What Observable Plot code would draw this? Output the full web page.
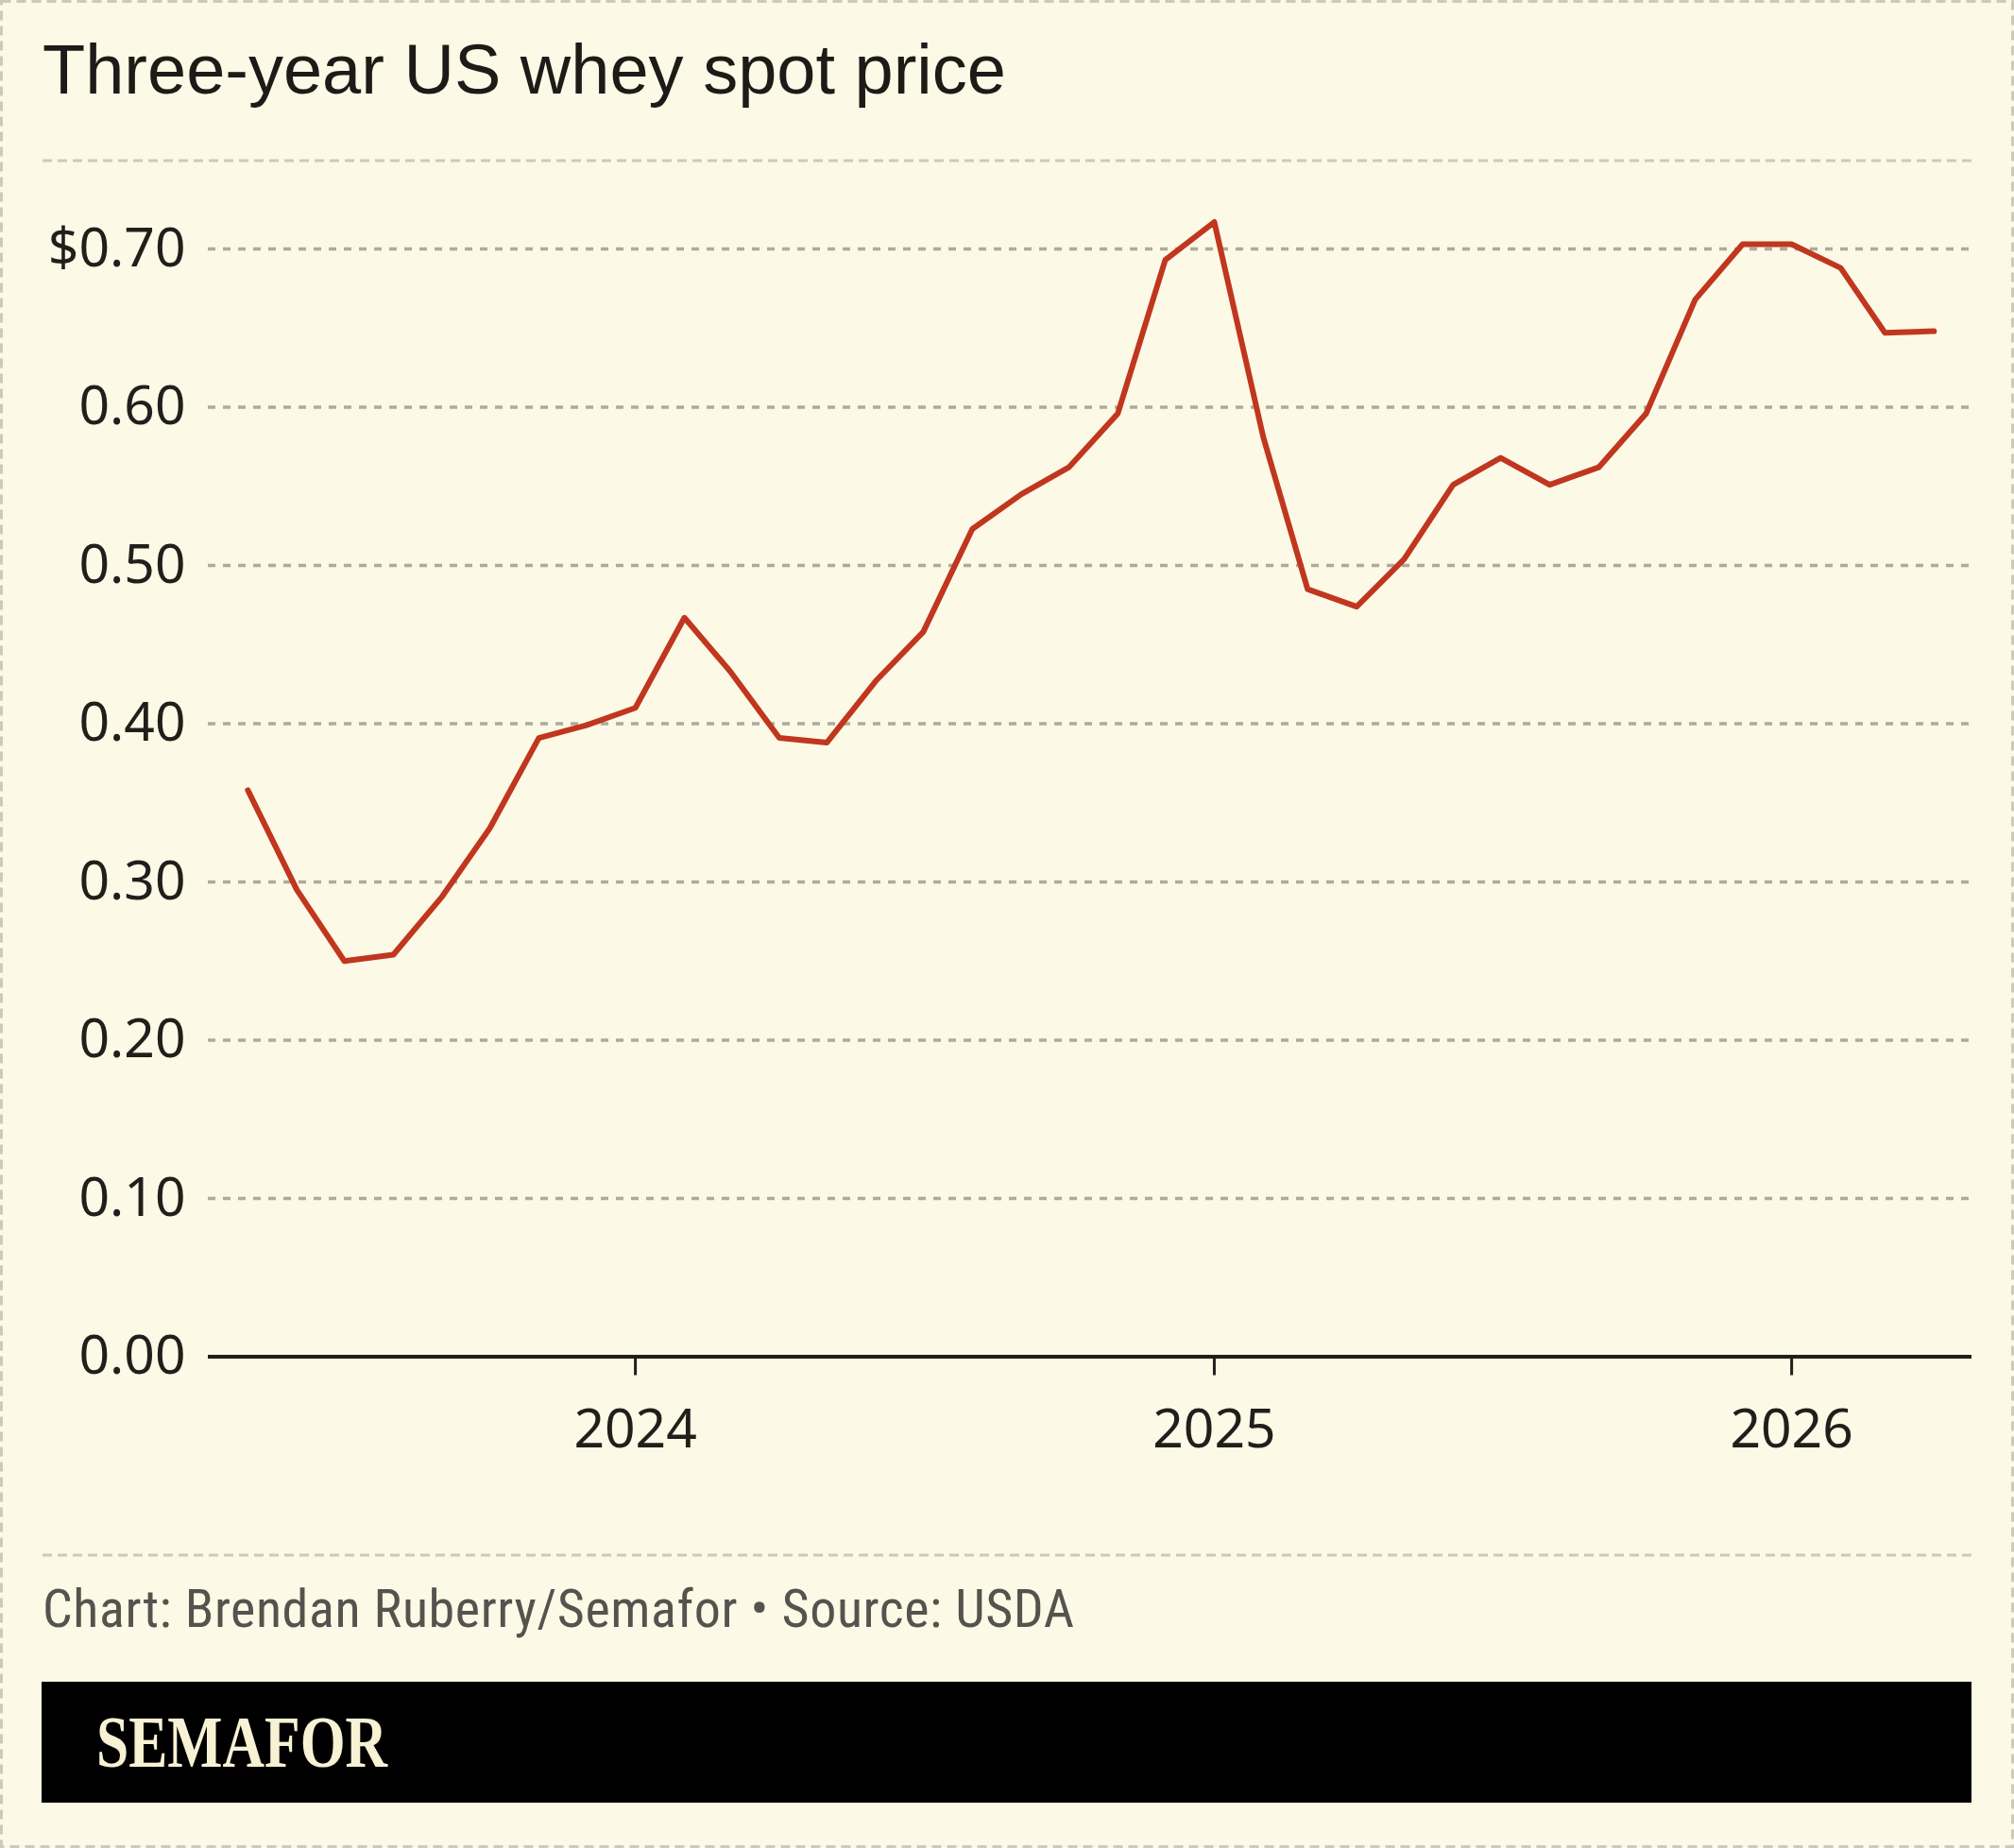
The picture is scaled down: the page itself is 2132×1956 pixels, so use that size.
<!DOCTYPE html>
<html>
<head>
<meta charset="utf-8">
<script src="https://cdn.jsdelivr.net/npm/d3@7"></script>
<script src="https://cdn.jsdelivr.net/npm/@observablehq/plot@0.6"></script>
<style>
  html, body { margin: 0; padding: 0; background: #fcf9e6; }
  #frame { position: relative; width: 2132px; height: 1956px; background: #fcf9e6; overflow: hidden; }
  #decor { position: absolute; left: 0; top: 0; }
  #title {
    position: absolute; left: 45px; top: 37px; margin: 0;
    font-family: "Liberation Sans", Arial, sans-serif; font-weight: 400;
    font-size: 74px; line-height: 74px; color: #1d1b17; white-space: nowrap;
  }
  #chart { position: absolute; left: 0; top: 160px; }
  #caption {
    position: absolute; left: 45px; top: 1675px; margin: 0;
    font-family: "Liberation Sans Narrow", "Roboto Condensed", Roboto, sans-serif;
    font-size: 56px; line-height: 56px; letter-spacing: 0.6px; color: #55534d; white-space: nowrap;
  }
  #brand {
    position: absolute; left: 44px; top: 1780px; width: 2043px; height: 128px; background: #000;
  }
  #brand span {
    position: absolute; left: 58px; top: 25px; display: inline-block;
    font-family: "Liberation Serif", "Times New Roman", serif; font-weight: 700;
    font-size: 78px; line-height: 78px; color: #f7f2d4;
    transform: scaleX(0.79); transform-origin: left center; white-space: nowrap;
  }
</style>
</head>
<body>
<div id="frame">
  <svg id="decor" width="2132" height="1956">
    <rect x="1.5" y="1.5" width="2129" height="1953" fill="none" stroke="#cdcabd" stroke-width="3" stroke-dasharray="10,6"/>
    <line x1="45" x2="2087" y1="170" y2="170" stroke="#cdcabd" stroke-width="3" stroke-dasharray="10,6"/>
    <line x1="45" x2="2087" y1="1646" y2="1646" stroke="#cdcabd" stroke-width="3" stroke-dasharray="10,6"/>
  </svg>
  <h1 id="title">Three-year US whey spot price</h1>
  <div id="chart"></div>
  <p id="caption">Chart: Brendan Ruberry/Semafor • Source: USDA</p>
  <div id="brand"><span>SEMAFOR</span></div>
</div>
<script>
// Monthly US whey spot price, dollars per pound
const months = [
  "2023-05", "2023-06", "2023-07", "2023-08", "2023-09", "2023-10", "2023-11", "2023-12",
  "2024-01", "2024-02", "2024-03", "2024-04", "2024-05", "2024-06", "2024-07", "2024-08",
  "2024-09", "2024-10", "2024-11", "2024-12", "2025-01", "2025-02", "2025-03", "2025-04",
  "2025-05", "2025-06", "2025-07", "2025-08", "2025-09", "2025-10", "2025-11", "2025-12",
  "2026-01", "2026-02", "2026-03", "2026-04"
];
const prices = [
  0.358, 0.295, 0.250, 0.254, 0.291, 0.334, 0.391, 0.399,
  0.410, 0.467, 0.433, 0.391, 0.388, 0.427, 0.458, 0.523,
  0.545, 0.562, 0.596, 0.693, 0.717, 0.581, 0.485, 0.474,
  0.504, 0.551, 0.568, 0.551, 0.562, 0.596, 0.668, 0.703,
  0.703, 0.688, 0.647, 0.648
];
const yTicks = [0, 0.1, 0.2, 0.3, 0.4, 0.5, 0.6, 0.7];
const yearTicks = ["2024-01-01", "2025-01-01", "2026-01-01"];
const xDomain = ["2023-04-06", "2026-04-25"];

const parse = d3.utcParse("%Y-%m");
const data = months.map((m, i) => ({date: parse(m), price: prices[i]}));
const yearDates = yearTicks.map(d3.utcParse("%Y-%m-%d"));

// Top tick carries the dollar sign
const fmt = (d) => d === yTicks[yTicks.length - 1] ? "$" + d.toFixed(2) : d.toFixed(2);

const chart = Plot.plot({
  width: 2132,
  height: 1440,
  marginLeft: 220,
  marginRight: 45,
  marginTop: 19.25,
  marginBottom: 164.5,
  style: {background: "transparent", fontFamily: "'Noto Sans', sans-serif", fontSize: "57px", color: "#211f1b"},
  x: {type: "utc", domain: xDomain.map(d3.utcParse("%Y-%m-%d")), label: null},
  y: {domain: [0, 0.75], label: null},
  marks: [
    Plot.gridY(yTicks.filter((d) => d > 0), {stroke: "#aeab9c", strokeOpacity: 1, strokeWidth: 3.5, strokeDasharray: "8,8"}),
    Plot.axisY(yTicks, {tickSize: 0, tickPadding: 24, tickFormat: fmt, fill: "#211f1b", fontSize: 57, label: null}),
    Plot.axisX(yearDates, {tickSize: 20, tickPadding: 36, strokeWidth: 3, stroke: "#211f1b", fill: "#211f1b", tickFormat: d3.utcFormat("%Y"), fontSize: 57, label: null}),
    Plot.ruleY([0], {stroke: "#211f1b", strokeWidth: 4}),
    Plot.lineY(data, {x: "date", y: "price", stroke: "#c0361f", strokeWidth: 6})
  ]
});
document.getElementById("chart").append(chart);
</script>
</body>
</html>
